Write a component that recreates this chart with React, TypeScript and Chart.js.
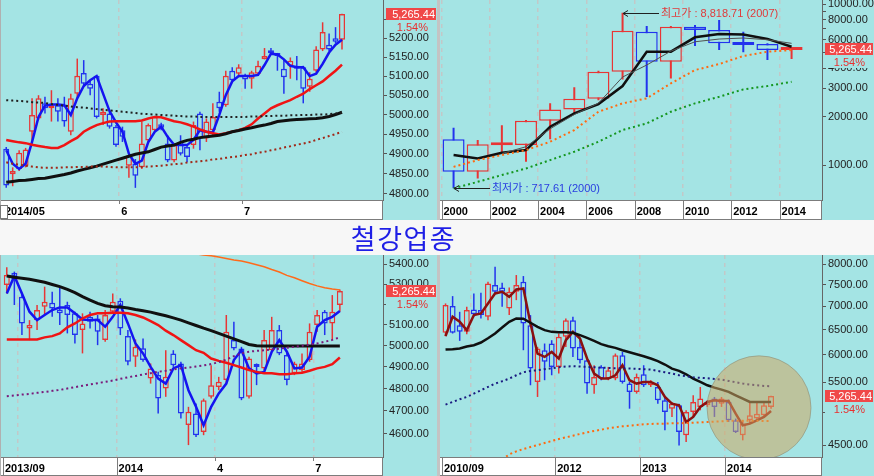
import React, { useEffect, useRef } from 'react';
import { Chart, registerables } from 'chart.js';

Chart.register(...registerables);

const CYAN = '#a4e4e4';
const UP = '#e83535';
const DOWN = '#2233ee';
const FONT = '"Liberation Sans", Arial, sans-serif';
const KFONT = '"Liberation Sans", "Noto Sans CJK KR", sans-serif';

const TITLE = '철강업종';
const LAST_CLOSE = 5265.44;
const LAST_TEXT = '5,265.44';
const CHANGE_TEXT = '1.54%';

// ---------- Panel A : daily candles (2014/05 - 2014/07) ----------
const dayOpen = [4913,4849,4862,4870,4956,4990,5029,5016,5024,5024,4956,5054,5108,5080,5101,4999,5003,4969,4960,4870,4875,4866,4934,4960,4975,4926,4883,4930,4917,4922,5003,4939,4960,5033,5024,5114,5106,5103,5093,5106,5144,5168,5157,5119,5127,5127,5123,5072,5114,5170,5183,5200,5196];
const dayClose = [4821,4857,4903,4911,4999,5042,5016,5024,5007,4982,5042,5101,5080,5067,4994,5007,4969,4922,4943,4896,4845,4926,4973,4994,4966,4883,4922,4900,4892,4973,4939,4982,4994,5016,5101,5089,5123,5091,5110,5127,5153,5160,5153,5097,5140,5119,5067,5093,5170,5217,5170,5191,5265.44];
const dayHigh = [4917,4866,4909,4915,5042,5050,5046,5063,5042,5046,5054,5146,5142,5089,5103,5016,5009,4973,4969,4900,4887,4982,4977,4996,4979,4947,4926,4947,4922,4982,5007,4990,5029,5059,5114,5123,5131,5106,5114,5140,5174,5174,5161,5144,5149,5153,5127,5110,5179,5243,5213,5230,5266];
const dayLow = [4815,4819,4857,4866,4930,4986,5003,4982,4982,4969,4947,5042,5072,5050,4990,4973,4964,4918,4930,4840,4815,4862,4926,4956,4960,4879,4879,4896,4879,4913,4909,4930,4947,5007,5020,5084,5097,5067,5067,5101,5144,5157,5114,5054,5093,5089,5029,5059,5110,5166,5166,5187,5170];
const dayMa5 = [4909,4875,4862,4875,4930,4994,5023,5026,5026,5024,4999,5042,5074,5089,5100,5054,5009,4980,4956,4900,4875,4883,4930,4956,4969,4943,4923,4922,4922,4935,4960,4956,4954,4999,5050,5086,5100,5100,5100,5103,5129,5159,5157,5144,5127,5123,5123,5100,5106,5132,5162,5183,5196];
const dayMa20 = [4935,4932,4929,4927,4923,4920,4917,4915,4915,4922,4932,4941,4956,4965,4973,4978,4982,4983,4983,4983,4983,4985,4990,4994,4993,4988,4983,4980,4975,4969,4962,4956,4952,4949,4952,4956,4960,4966,4975,4990,5003,5016,5024,5031,5037,5046,5054,5066,5076,5086,5100,5114,5130];
const dayMa60 = [4829,4831,4833,4834,4836,4838,4839,4842,4845,4848,4852,4857,4861,4865,4869,4874,4879,4884,4889,4894,4899,4902,4905,4911,4917,4920,4922,4929,4934,4937,4941,4943,4945,4947,4951,4956,4959,4963,4966,4970,4973,4977,4982,4984,4986,4987,4988,4989,4990,4992,4995,5000,5006];
const dayMa120 = [5037,5036,5035,5034,5032,5031,5030,5027,5025,5023,5021,5019,5018,5016,5014,5012,5011,5009,5007,5006,5004,5002,5001,5000,4999,4998,4997,4996,4995,4995,4994,4994,4994,4994,4994,4994,4994,4994,4995,4995,4996,4996,4997,4997,4998,4998,4999,4999,5000,5000,5001,5003,5005];
const dayMa240 = [4879,4875,4873,4870,4868,4866,4865,4865,4865,4866,4866,4867,4867,4868,4868,4868,4867,4866,4866,4866,4866,4867,4868,4869,4870,4872,4874,4875,4878,4880,4881,4883,4886,4887,4890,4892,4894,4897,4899,4903,4905,4909,4912,4916,4919,4923,4926,4930,4935,4940,4945,4950,4956];
const dayTickLabels = ['2014/05', '6', '7'];
const dayYTicks = [4800, 4850, 4900, 4950, 5000, 5050, 5100, 5150, 5200, 5250];

// ---------- Panel B : yearly candles (2000 - 2014) ----------
const yearLabels = ['2000', '2002', '2004', '2006', '2008', '2010', '2012', '2014'];
const yearOpen = [1445, 908, 1330, 1331, 1884, 2217, 2583, 3802, 6730, 4387, 7226, 6900, 5780, 5650, 5185];
const yearClose = [908, 1349, 1350, 1884, 2217, 2583, 3802, 6823, 4387, 7220, 6900, 5700, 5560, 5180, 5265.44];
const yearHigh = [1706, 1430, 1770, 1905, 2420, 3040, 3850, 8818.71, 7300, 7300, 7413, 7963, 6730, 5700, 5280];
const yearLow = [717.61, 826, 1182, 1050, 1445, 2090, 2530, 3400, 2650, 3450, 5482, 5180, 5010, 4490, 4550];
const yearMaA = [1154, 1100, 1192, 1239, 1730, 2094, 2393, 3097, 5058, 5058, 6211, 6515, 6460, 6070, 5433];
const yearMaB = [null, null, 1180, 1300, 1680, 2060, 2420, 3520, 4180, 5100, 5830, 6060, 6150, 6000, 5700];
const yearMaC = [975, 1074, 1154, 1239, 1396, 1650, 2143, 2417, 2595, 3215, 3890, 4238, 4755, 5058, 5176];
const yearMaD = [717, 787, 867, 953, 1074, 1210, 1396, 1650, 1815, 2143, 2417, 2656, 2950, 3097, 3290];
const yearYTicks = [1000, 2000, 3000, 4000, 5000, 6000, 7000, 8000, 9000, 10000];
const yearYShown = [1000, 2000, 3000, 4000, 6000, 8000, 10000];
const yearHighNote = '최고가 : 8,818.71 (2007)';
const yearLowNote = '최저가 : 717.61 (2000)';

// ---------- Panel C : weekly candles (2013/09 - 2014/07) ----------
const weekOpen = [5295,5357,5237,5082,5122,5187,5207,5174,5196,5155,5074,5138,5130,5026,5163,5217,5045,4947,4987,4846,4862,4801,4963,4916,4637,4688,4607,4763,4808,4839,5026,4986,4763,4908,4893,4978,5074,4955,4870,4885,4932,5098,5163,5106,5196];
const weekClose = [5346,5324,5106,5098,5171,5212,5179,5155,5147,5050,5106,5114,5066,5147,5212,5082,4924,4994,4932,4893,4755,4854,4908,4688,4696,4593,4748,4816,4831,5066,4986,4755,4939,4900,5026,5074,4963,4839,4916,4916,5066,5147,5106,5163,5265.44];
const weekHigh = [5385,5363,5245,5122,5196,5287,5262,5287,5212,5163,5155,5163,5147,5171,5253,5229,5074,5029,5034,4916,4877,4978,4978,4924,4718,4733,4755,4908,4854,5147,5114,4994,4947,4916,5074,5138,5098,4971,4924,4963,5106,5171,5171,5245,5273];
const weekLow = [5253,5196,5050,5026,5074,5147,5138,5098,5058,5010,4963,5082,5002,5018,5155,5050,4908,4900,4924,4823,4688,4763,4900,4666,4550,4585,4593,4755,4793,4823,4978,4748,4755,4816,4885,4971,4955,4816,4862,4877,4924,5066,5050,5026,5163];
const weekMa5 = [5253,5341,5253,5163,5122,5147,5171,5184,5184,5155,5125,5122,5122,5090,5138,5196,5106,5010,4963,4900,4846,4823,4893,4908,4793,4718,4637,4718,4778,4823,4932,4978,4893,4870,4877,4971,5026,4971,4893,4897,4947,5090,5122,5138,5166];
const weekMa20 = [5029,5029,5029,5029,5029,5039,5045,5058,5087,5106,5130,5147,5155,5155,5158,5158,5155,5147,5135,5117,5098,5071,5050,5026,5002,4978,4966,4939,4928,4919,4908,4897,4885,4877,4870,4870,4866,4866,4870,4873,4882,4893,4900,4913,4944];
const weekMa60 = [5341,5334,5329,5324,5317,5309,5298,5287,5273,5257,5237,5220,5204,5192,5187,5186,5181,5174,5168,5161,5152,5143,5133,5122,5109,5096,5083,5071,5058,5045,5032,5019,5005,4999,4998,4998,4998,4998,4998,4998,4998,4998,4998,4998,4998];
const weekMa120 = [4766,4769,4773,4776,4781,4785,4790,4794,4801,4807,4813,4819,4825,4831,4837,4845,4852,4858,4865,4871,4877,4882,4888,4893,4897,4902,4907,4913,4922,4934,4950,4963,4971,4975,4978,4982,4985,4990,4994,4999,5004,5010,5018,5027,5039];
const weekMa240 = [null,null,null,null,null,null,null,null,null,null,null,null,null,null,null,null,null,null,null,null,null,null,5475,5467,5460,5454,5448,5444,5438,5430,5422,5417,5408,5398,5388,5374,5361,5344,5332,5317,5303,5291,5282,5275,5270];
const weekTickLabels = ['2013/09', '', '2014', '4', '7'];
const weekYTicks = [4600, 4700, 4800, 4900, 5000, 5100, 5200, 5300, 5400];

// ---------- Panel D : monthly candles (2010/09 - 2014/07) ----------
const monthOpen = [6435,7006,6594,6455,6932,6917,6772,7490,7435,6954,7333,7570,6594,5505,6089,6220,5774,6353,6700,6154,5899,5447,5774,5564,5564,5993,5476,5333,5641,5447,5418,5193,5056,5111,4645,5003,5084,5111,5221,5138,5165,4873,4645,4873,4899,4951,5084];
const monthClose = [7028,6435,6455,6917,6829,6808,7530,7333,7333,7333,7490,6629,5744,6122,5868,5774,6353,6700,6122,5899,5476,5594,5564,5713,5993,5505,5333,5594,5447,5505,5193,5003,5138,4695,5003,5165,5221,5165,5084,5221,4873,4695,4821,4951,4977,5111,5265.44];
const monthHigh = [7066,7232,6880,6991,7294,7310,7570,7940,7546,7435,7733,7708,6808,6154,6220,6286,6421,6736,6772,6286,5930,5805,5805,5774,6025,6057,5505,5653,5805,5535,5505,5248,5165,5138,5030,5276,5418,5193,5248,5248,5204,4899,4873,5165,5165,5165,5270];
const monthLow = [6367,6421,6273,6408,6772,6736,6700,7294,6991,6808,7140,6089,5447,5248,5535,5623,5653,6154,5961,5837,5304,5304,5535,5535,5535,5476,5056,5304,5418,5418,5138,4720,4925,4499,4547,4925,5030,5084,4925,5084,4847,4680,4572,4821,4873,4925,5056];
const monthMa3 = [6367,6772,6665,6490,6808,6844,7066,7294,7333,7217,7388,7411,6629,6025,5961,6057,5930,6286,6455,6319,5930,5653,5564,5564,5623,5805,5535,5476,5505,5505,5447,5248,5138,5111,4847,4925,5084,5165,5193,5182,5182,4977,4796,4821,4873,4925,5019];
const monthMa12 = [6102,6109,6122,6161,6187,6240,6326,6421,6545,6665,6736,6729,6644,6559,6490,6455,6448,6448,6435,6387,6333,6273,6207,6167,6135,6089,6051,6012,5974,5930,5880,5818,5744,5701,5641,5564,5505,5447,5407,5372,5333,5276,5221,5165,5165,5165,5165];
const monthMa24 = [5122,5165,5210,5248,5304,5361,5418,5476,5517,5564,5623,5677,5701,5713,5732,5750,5768,5781,5787,5781,5774,5768,5762,5756,5750,5750,5744,5738,5732,5725,5701,5677,5653,5623,5606,5588,5576,5570,5558,5546,5523,5500,5476,5459,5447,5435,5430];
const monthMa60 = [null,null,null,null,null,null,null,null,4300,4373,4414,4447,4476,4504,4533,4562,4591,4616,4640,4665,4690,4710,4730,4750,4765,4780,4791,4801,4811,4816,4821,4821,4826,4826,4831,4836,4842,4847,4852,4857,4862,4867,4867,4867,4867,4862,4862];
const monthTickLabels = ['2010/09', '', '2012', '2013', '2014'];
const monthYTicks = [4500, 5000, 5500, 6000, 6500, 7000, 7500, 8000];
const monthYShown = [4500, 5500, 6000, 6500, 7000, 7500, 8000];

type LineSpec = { data: (number | null)[]; color: string; width: number; dash?: number[] };
type XTick = { at: number; label: string; grid: boolean; div: 'full' | 'small' | 'none' };
type Note = { x: number; y: number; text: string; color: string };
type Spec = {
  width: number; height: number; padLeft: number; yWidth: number; xHeight: number;
  xMax: number; yMin: number; yMax: number; yTicks: number[]; yShown: number[];
  xTicks: XTick[]; open: number[]; high: number[]; low: number[]; close: number[];
  bodyW: number; wickW: number; lines: LineSpec[]; notes?: Note[]; ring?: { x: number; y: number; r: number };
};

function candleDatasets(s: Spec) {
  const bodyUp: any[] = [], bodyDn: any[] = [], wickUp: any[] = [], wickDn: any[] = [];
  s.open.forEach((o, i) => {
    const c = s.close[i];
    const up = c >= o;
    (up ? wickUp : wickDn).push({ x: i, y: [s.low[i], s.high[i]] });
    (up ? bodyUp : bodyDn).push({ x: i, y: [Math.min(o, c), Math.max(o, c)] });
  });
  const body = (data: any[], color: string) => ({
    type: 'bar', data, backgroundColor: CYAN, borderColor: color, borderWidth: 1.5,
    borderSkipped: false, grouped: false, barThickness: s.bodyW, maxBarThickness: s.bodyW,
    minBarLength: 3, inflateAmount: 0, order: 5,
  });
  const wick = (data: any[], color: string) => ({
    type: 'bar', data, backgroundColor: color, borderWidth: 0, grouped: false,
    barThickness: s.wickW, maxBarThickness: s.wickW, inflateAmount: 0, order: 6,
  });
  return [body(bodyUp, UP), body(bodyDn, DOWN), wick(wickUp, UP), wick(wickDn, DOWN)];
}

function lineDatasets(s: Spec) {
  return s.lines.map((l) => ({
    type: 'line',
    data: l.data.map((v, i) => (v == null ? null : { x: i, y: v })).filter((p) => p !== null),
    borderColor: l.color, borderWidth: l.width, borderDash: l.dash || [],
    pointRadius: 0, pointHoverRadius: 0, fill: false, tension: 0, order: 1, clip: 0,
  }));
}

function decor(s: Spec) {
  return {
    id: 'decor',
    beforeDraw(chart: any) {
      const { ctx, width, height } = chart;
      const xs = chart.scales.x;
      ctx.save();
      ctx.fillStyle = CYAN;
      ctx.fillRect(0, 0, width, height);
      ctx.fillStyle = '#ffffff';
      ctx.fillRect(0, xs.top, xs.right, xs.bottom - xs.top);
      ctx.restore();
    },
    afterDatasetsDraw(chart: any) {
      if (!s.ring) return;
      const { ctx, chartArea: a } = chart;
      const cx = chart.scales.x.getPixelForValue(s.ring.x);
      const cy = chart.scales.y.getPixelForValue(s.ring.y);
      ctx.save();
      ctx.beginPath();
      ctx.rect(a.left, a.top, a.right - a.left, a.bottom - a.top);
      ctx.clip();
      ctx.beginPath();
      ctx.arc(cx, cy, s.ring.r, 0, Math.PI * 2);
      ctx.fillStyle = 'rgba(207,168,98,0.55)';
      ctx.fill();
      ctx.strokeStyle = 'rgba(130,130,110,0.5)';
      ctx.lineWidth = 1;
      ctx.stroke();
      ctx.restore();
    },
    afterDraw(chart: any) {
      const { ctx } = chart;
      const xs = chart.scales.x, ys = chart.scales.y;
      ctx.save();
      ctx.strokeStyle = '#7c7c7c';
      ctx.lineWidth = 1;
      ctx.strokeRect(0.5, xs.top + 0.5, xs.right - 1, xs.bottom - xs.top - 1);
      for (const t of s.xTicks) {
        if (t.div === 'none') continue;
        const px = Math.round(xs.getPixelForValue(t.at)) + 0.5;
        ctx.beginPath();
        ctx.moveTo(px, xs.top);
        ctx.lineTo(px, t.div === 'full' ? xs.bottom : xs.top + 4);
        ctx.stroke();
      }
      if (s.notes) {
        for (const n of s.notes) {
          const ax = Math.round(xs.getPixelForValue(n.x));
          const ay = Math.round(ys.getPixelForValue(n.y)) + 0.5;
          ctx.strokeStyle = '#202020';
          ctx.beginPath();
          ctx.moveTo(ax, ay); ctx.lineTo(ax + 36, ay);
          ctx.moveTo(ax + 5, ay - 3); ctx.lineTo(ax, ay); ctx.lineTo(ax + 5, ay + 3);
          ctx.stroke();
          ctx.fillStyle = n.color;
          ctx.font = '11px ' + KFONT;
          ctx.textAlign = 'left';
          ctx.textBaseline = 'middle';
          ctx.fillText(n.text, ax + 38, ay);
        }
      }
      const py = Math.round(ys.getPixelForValue(LAST_CLOSE));
      const bx = ys.left + 3;
      const bw = chart.width - bx - 1;
      ctx.fillStyle = '#f04848';
      ctx.fillRect(bx, py - 6, bw, 12);
      ctx.font = '11px ' + FONT;
      ctx.textAlign = 'right';
      ctx.textBaseline = 'middle';
      ctx.fillStyle = '#ffffff';
      ctx.fillText(LAST_TEXT, chart.width - 2, py + 0.5);
      ctx.fillStyle = CYAN;
      ctx.fillRect(bx, py + 7, bw, 12);
      ctx.fillStyle = '#e83030';
      ctx.fillText(CHANGE_TEXT, chart.width - 9, py + 13.5);
      ctx.restore();
    },
  };
}

function buildConfig(s: Spec): any {
  return {
    type: 'bar',
    data: { datasets: [...lineDatasets(s), ...candleDatasets(s)] },
    options: {
      responsive: false,
      animation: false,
      events: [],
      layout: { padding: { left: s.padLeft, right: 0, top: 0, bottom: 0 } },
      plugins: { legend: { display: false }, tooltip: { enabled: false }, title: { display: false } },
      scales: {
        x: {
          type: 'linear', position: 'bottom', min: -0.5, max: s.xMax, offset: false, bounds: 'data',
          afterBuildTicks: (sc: any) => { sc.ticks = s.xTicks.map((t) => ({ value: t.at })); },
          afterFit: (sc: any) => {
            sc.height = s.xHeight; sc.paddingLeft = 0; sc.paddingRight = 0; sc.paddingTop = 0; sc.paddingBottom = 0;
          },
          ticks: {
            autoSkip: false, maxRotation: 0, minRotation: 0, align: 'start', labelOffset: 2, padding: 5,
            color: '#000', font: { family: FONT, size: 11, weight: 'bold' },
            callback: (v: number) => { const t = s.xTicks.find((k) => k.at === v); return t ? t.label : ''; },
          },
          grid: {
            offset: false, drawTicks: false, drawOnChartArea: true, lineWidth: 1.5,
            color: (c: any) => {
              const t = s.xTicks.find((k) => c.tick && k.at === c.tick.value);
              return t && t.grid ? '#c2c8c8' : 'rgba(0,0,0,0)';
            },
          },
          border: { display: true, color: '#7c7c7c', width: 1, dash: [4, 4] },
        },
        y: {
          type: 'logarithmic', position: 'right', min: s.yMin, max: s.yMax, bounds: 'data',
          afterBuildTicks: (sc: any) => { sc.ticks = s.yTicks.map((v) => ({ value: v })); },
          afterFit: (sc: any) => {
            sc.width = s.yWidth; sc.paddingTop = 0; sc.paddingBottom = 0; sc.paddingLeft = 0; sc.paddingRight = 0;
          },
          ticks: {
            autoSkip: false, padding: 2, color: '#222', font: { family: FONT, size: 11 },
            callback: (v: number) => (s.yShown.includes(v) ? v.toFixed(2) : ''),
          },
          grid: { drawOnChartArea: false, drawTicks: true, tickLength: 4, color: '#555' },
          border: { display: true, color: '#666', width: 1 },
        },
      },
    },
    plugins: [decor(s)],
  };
}

const specDay: Spec = {
  width: 437, height: 220, padLeft: 3, yWidth: 54, xHeight: 20,
  xMax: 58.35, yMin: 4785, yMax: 5303.5, yTicks: dayYTicks,
  yShown: dayYTicks.filter((v) => v !== 5250),
  xTicks: [
    { at: -0.5, label: dayTickLabels[0], grid: false, div: 'none' },
    { at: 17.5, label: dayTickLabels[1], grid: true, div: 'small' },
    { at: 36.5, label: dayTickLabels[2], grid: true, div: 'small' },
  ],
  open: dayOpen, high: dayHigh, low: dayLow, close: dayClose, bodyW: 6, wickW: 1.5,
  lines: [
    { data: dayMa240, color: '#a02818', width: 2, dash: [2, 3] },
    { data: dayMa120, color: '#202020', width: 2, dash: [2, 3] },
    { data: dayMa60, color: '#101010', width: 3 },
    { data: dayMa20, color: '#f01414', width: 2.5 },
    { data: dayMa5, color: '#1414f0', width: 2.5 },
  ],
};

const specYear: Spec = {
  width: 437, height: 220, padLeft: 4.5, yWidth: 52, xHeight: 20,
  xMax: 15.26, yMin: 607, yMax: 10590, yTicks: yearYTicks, yShown: yearYShown,
  xTicks: yearLabels.map((l, i) => ({ at: i * 2 - 0.5, label: l, grid: true, div: 'full' as const })),
  open: yearOpen, high: yearHigh, low: yearLow, close: yearClose, bodyW: 22, wickW: 2,
  lines: [
    { data: yearMaD, color: '#14961e', width: 2, dash: [2, 3] },
    { data: yearMaC, color: '#ff6a10', width: 2, dash: [2, 3] },
    { data: yearMaB, color: '#505050', width: 1 },
    { data: yearMaA, color: '#101010', width: 2.5 },
  ],
  notes: [
    { x: 7, y: 8818.71, text: yearHighNote, color: '#e03a3a' },
    { x: 0, y: 717.61, text: yearLowNote, color: '#2a40e0' },
  ],
};

const specWeek: Spec = {
  width: 437, height: 221, padLeft: 3, yWidth: 54, xHeight: 19,
  xMax: 49.7, yMin: 4499, yMax: 5448, yTicks: weekYTicks, yShown: weekYTicks,
  xTicks: [
    { at: -0.5, label: weekTickLabels[0], grid: false, div: 'full' },
    { at: 1.5, label: weekTickLabels[1], grid: true, div: 'none' },
    { at: 14.5, label: weekTickLabels[2], grid: true, div: 'full' },
    { at: 27.5, label: weekTickLabels[3], grid: true, div: 'small' },
    { at: 40.5, label: weekTickLabels[4], grid: true, div: 'small' },
  ],
  open: weekOpen, high: weekHigh, low: weekLow, close: weekClose, bodyW: 6, wickW: 1.5,
  lines: [
    { data: weekMa120, color: '#7a1a7a', width: 2, dash: [2, 3] },
    { data: weekMa240, color: '#ff6a1a', width: 1.5 },
    { data: weekMa60, color: '#101010', width: 3 },
    { data: weekMa20, color: '#f01414', width: 2.5 },
    { data: weekMa5, color: '#1414f0', width: 2.5 },
  ],
};

const specMonth: Spec = {
  width: 437, height: 221, padLeft: 5, yWidth: 52, xHeight: 19,
  xMax: 53.2, yMin: 4336, yMax: 8242, yTicks: monthYTicks, yShown: monthYShown,
  xTicks: [
    { at: -0.5, label: monthTickLabels[0], grid: false, div: 'full' },
    { at: 3.5, label: monthTickLabels[1], grid: true, div: 'none' },
    { at: 15.5, label: monthTickLabels[2], grid: true, div: 'full' },
    { at: 27.5, label: monthTickLabels[3], grid: true, div: 'full' },
    { at: 39.5, label: monthTickLabels[4], grid: true, div: 'full' },
  ],
  open: monthOpen, high: monthHigh, low: monthLow, close: monthClose, bodyW: 6, wickW: 1.5,
  lines: [
    { data: monthMa60, color: '#ff6a10', width: 2, dash: [2, 3] },
    { data: monthMa24, color: '#1a1a80', width: 2, dash: [2, 3] },
    { data: monthMa12, color: '#101010', width: 2.5 },
    { data: monthMa3, color: '#8a1010', width: 2.5 },
  ],
  ring: { x: 44.3, y: 5070, r: 52 },
};

function Panel({ spec, left, top }: { spec: Spec; left: number; top: number }) {
  const ref = useRef<HTMLCanvasElement>(null);
  useEffect(() => {
    const chart = new Chart(ref.current as HTMLCanvasElement, buildConfig(spec));
    return () => chart.destroy();
  }, [spec]);
  return (
    <canvas
      ref={ref}
      width={spec.width}
      height={spec.height}
      style={{ position: 'absolute', left, top, width: spec.width, height: spec.height, display: 'block' }}
    />
  );
}

export default function App() {
  return (
    <div style={{ position: 'fixed', left: 0, top: 0, width: 874, height: 476, background: '#f7f7f7', overflow: 'hidden' }}>
      <Panel spec={specDay} left={0} top={0} />
      <Panel spec={specYear} left={437} top={0} />
      <Panel spec={specWeek} left={0} top={255} />
      <Panel spec={specMonth} left={437} top={255} />
      <div style={{ position: 'absolute', left: 437, top: 0, width: 3, height: 220, background: '#c4c4c4' }} />
      <div style={{ position: 'absolute', left: 437, top: 255, width: 3, height: 221, background: '#c4c4c4' }} />
      <div style={{ position: 'absolute', left: 0, top: 0, width: 1, height: 220, background: '#b0b0b0' }} />
      <div style={{ position: 'absolute', left: 0, top: 255, width: 1, height: 221, background: '#b0b0b0' }} />
      <div style={{ position: 'absolute', left: 0, top: 205, width: 6, height: 12, background: '#fff', border: '1px solid #777' }} />
      <div
        style={{
          position: 'absolute', left: 0, top: 220, width: 807, height: 35, lineHeight: '35px', textAlign: 'center',
          fontFamily: '"Noto Sans CJK KR", sans-serif', fontSize: 27, letterSpacing: 1.5, color: '#1e1ee6',
        }}
      >
        {TITLE}
      </div>
    </div>
  );
}
